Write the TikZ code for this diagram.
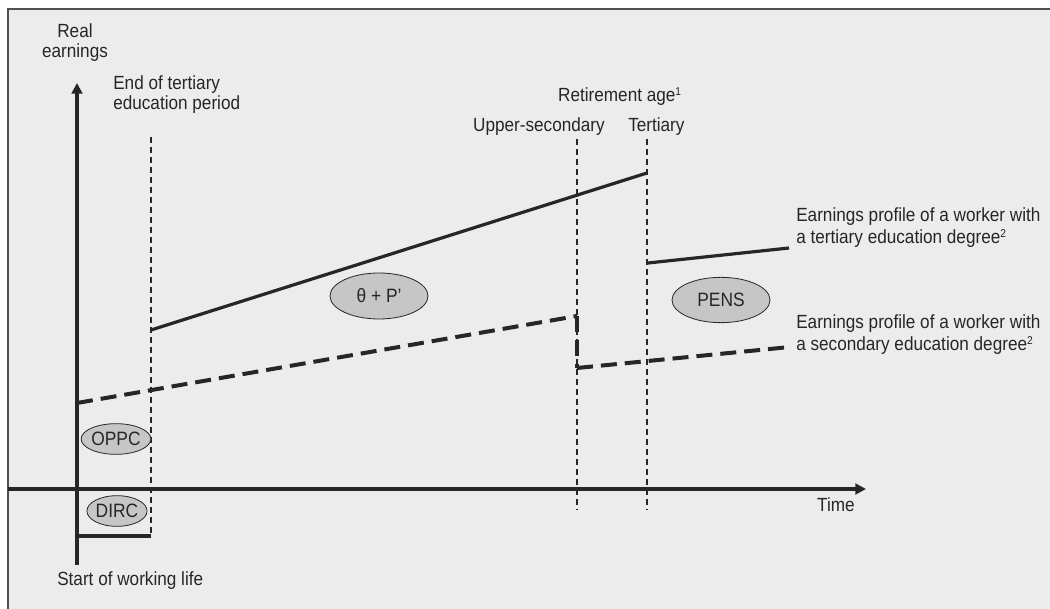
\documentclass[tikz,border=0pt]{standalone}
\usepackage{fontspec}
\setmainfont{Liberation Sans}[FakeStretch=0.9]
\usetikzlibrary{arrows.meta,positioning,shapes.geometric}
\definecolor{ink}{HTML}{262626}
\definecolor{panel}{HTML}{ECECEC}
\definecolor{rim}{HTML}{505050}
\definecolor{blob}{HTML}{C6C6C6}
\tikzset{
  axis/.style={draw=ink,line width=2.3pt,-{Triangle[length=8pt,width=8pt]}},
  marker/.style={draw=ink,line width=0.8pt,dash pattern=on 4.5pt off 3pt},
  tertiary/.style={draw=ink,line width=2.4pt},
  secondary/.style={draw=ink,line width=3pt,dash pattern=on 12pt off 6pt},
  tag/.style={ellipse,draw=ink,fill=blob,line width=0.6pt,inner sep=0pt,text=ink,
    font=\fontsize{14.5}{16}\selectfont},
  note/.style={text=ink,inner sep=0pt,font=\fontsize{14.3}{15}\selectfont},
  sidenote/.style={note,align=left,anchor=base west,font=\fontsize{14.3}{16.5}\selectfont}
}
\newcommand{\fn}[1]{\textsuperscript{\fontsize{8.5}{8.5}\selectfont #1}}

\begin{document}
\begin{tikzpicture}[x=0.75pt,y=-0.75pt]
  \useasboundingbox (0,0) rectangle (1050,609);
  \fill[white] (0,0) rectangle (1050,609);
  \draw[draw=rim,line width=1.5pt,fill=panel] (8,9) rectangle (1064,624);

  % axes
  \coordinate (origin) at (77,565);
  \coordinate (ytop) at (77,83);
  \coordinate (xleft) at (8,489);
  \coordinate (xright) at (866,489);
  \draw[axis] (origin) -- (ytop);
  \draw[axis] (xleft) -- (xright);
  \node[note,align=center,anchor=base] (yname) at (75,58) {Real\\earnings};
  \node[note,anchor=base east] (xname) at (855,512) {Time};
  \node[note,anchor=base west] (start) at (57,585) {Start of working life};

  % period markers
  \coordinate (endtop) at (151,137);
  \coordinate (endbot) at (151,536);
  \coordinate (sectop) at (577,139);
  \coordinate (secbot) at (577,510);
  \coordinate (tertop) at (647,139);
  \coordinate (terbot) at (647,510);
  \draw[marker] (endtop) -- (endbot);
  \draw[marker] (sectop) -- (secbot);
  \draw[marker] (tertop) -- (terbot);
  \node[note,align=left,anchor=base west] (endname) at (113,110)
    {End of tertiary\\education period};
  \node[note,anchor=base] (retire) at (620,102) {Retirement age\fn{1}};
  \node[note,anchor=base east] (secname) at (605,132) {Upper-secondary};
  \node[note,anchor=base west] (tername) at (628,132) {Tertiary};

  % earnings profiles
  \coordinate (t0) at (151,330);
  \coordinate (t1) at (647,173);
  \coordinate (t2) at (648,263);
  \coordinate (t3) at (789,248);
  \draw[tertiary] (t0) -- (t1);
  \draw[tertiary] (t2) -- (t3);
  \coordinate (s0) at (77,403);
  \coordinate (s1) at (577,316);
  \coordinate (s2) at (577,368);
  \coordinate (s3) at (790,347);
  \draw[secondary] (s0) -- (s1);
  \draw[secondary] (s1) -- (s2);
  \draw[secondary] (s2) -- (s3);
  \node[sidenote] (terlabel) at (796,244)
    {Earnings profile of a worker with\\a tertiary education degree\fn{2}};
  \node[sidenote] (seclabel) at (796,351)
    {Earnings profile of a worker with\\a secondary education degree\fn{2}};

  % cost and benefit tags
  \node[tag,minimum width=73.5pt,minimum height=34.5pt] (gain) at (379,296) {θ + P’};
  \node[tag,minimum width=73.5pt,minimum height=34pt] (pens) at (721,300) {PENS};
  \node[tag,minimum width=44pt,minimum height=23pt] (oppc) at (116,439) {OPPC};
  \node[tag,minimum width=44pt,minimum height=23pt] (dirc) at (117,511) {DIRC};
  \coordinate (barleft) at (79,536);
  \draw[ink,line width=3pt] (barleft) -- (endbot);
\end{tikzpicture}
\end{document}
